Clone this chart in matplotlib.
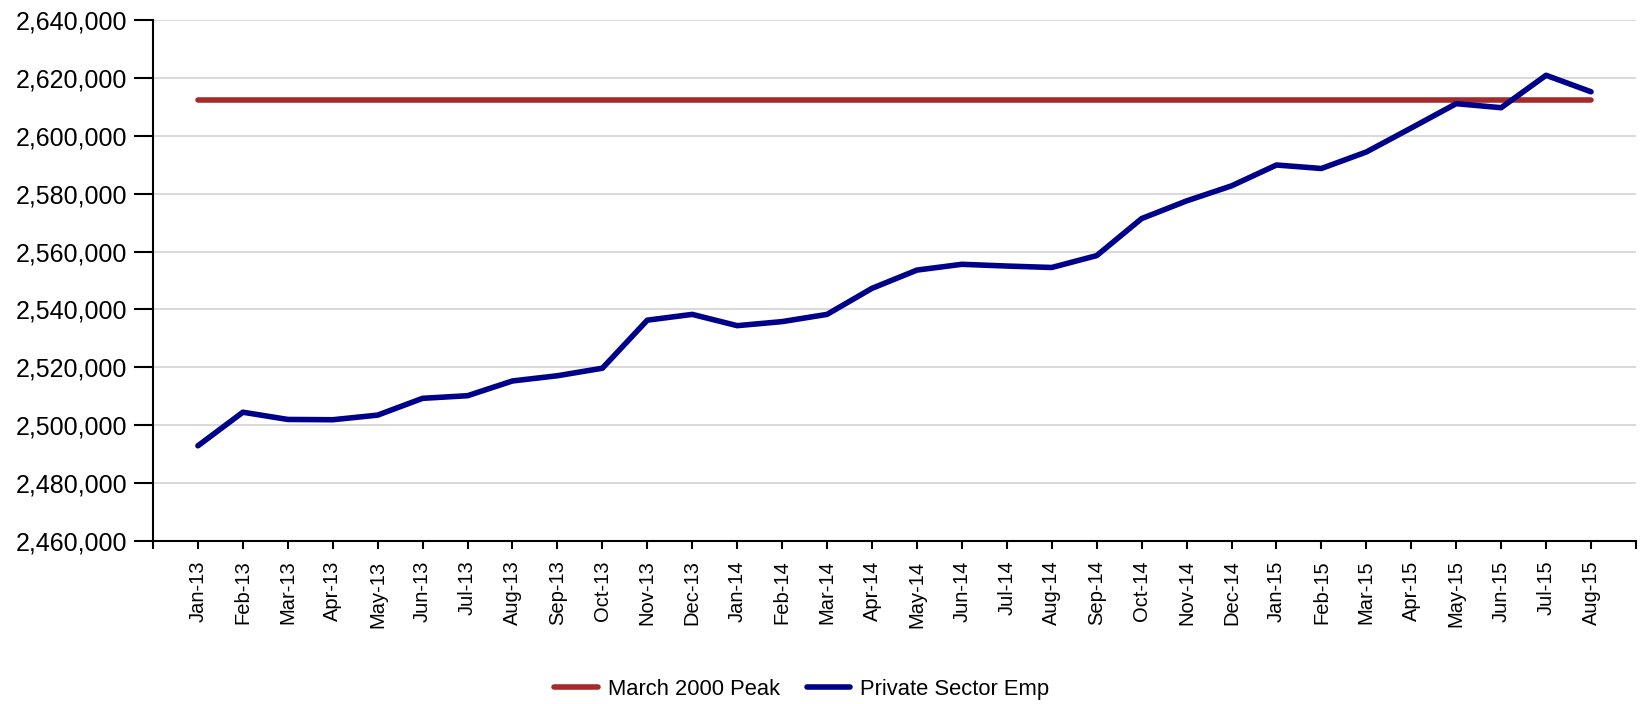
import matplotlib
matplotlib.use("Agg")
import matplotlib.pyplot as plt
from matplotlib.ticker import FuncFormatter, FixedLocator

plt.rcParams['font.family'] = ['Liberation Sans', 'DejaVu Sans']

months = ["Jan-13", "Feb-13", "Mar-13", "Apr-13", "May-13", "Jun-13", "Jul-13", "Aug-13",
          "Sep-13", "Oct-13", "Nov-13", "Dec-13", "Jan-14", "Feb-14", "Mar-14", "Apr-14",
          "May-14", "Jun-14", "Jul-14", "Aug-14", "Sep-14", "Oct-14", "Nov-14", "Dec-14",
          "Jan-15", "Feb-15", "Mar-15", "Apr-15", "May-15", "Jun-15", "Jul-15", "Aug-15"]

private_emp = [2492900, 2504500, 2502000, 2501900, 2503500, 2509300, 2510200, 2515300,
               2517100, 2519700, 2536300, 2538300, 2534400, 2535800, 2538300, 2547300,
               2553600, 2555600, 2555000, 2554500, 2558600, 2571400, 2577500, 2582700,
               2589900, 2588700, 2594400, 2602700, 2611100, 2609700, 2620900, 2615200]

peak_2000 = 2612300
peak_line = [peak_2000] * len(months)

y_ticks = list(range(2460000, 2640001, 20000))

red = "#A52A2A"
blue = "#00008B"

fig = plt.figure(figsize=(16.45, 7.04), dpi=100)
ax = fig.add_axes([0.0930, 0.2315, 0.9015, 0.7401])

x = list(range(len(months)))
ax.plot(x, peak_line, color=red, lw=4, solid_capstyle='round', label="March 2000 Peak", zorder=3)
ax.plot(x, private_emp, color=blue, lw=4, solid_capstyle='round', label="Private Sector Emp", zorder=4)

ax.set_xlim(-1, len(months))
ax.set_ylim(y_ticks[0], y_ticks[-1])

# ticks at every month plus the two axis ends
ax.xaxis.set_major_locator(FixedLocator(x))
ax.set_xticklabels(months, rotation=90, fontsize=14.5)
ax.xaxis.set_minor_locator(FixedLocator([-1, len(months)]))
ax.tick_params(axis='x', which='both', length=6, width=1.5, pad=8, color='black')

ax.set_yticks(y_ticks)
ax.yaxis.set_major_formatter(FuncFormatter(lambda v, p: f"{int(v):,}"))
ax.tick_params(axis='y', length=13.5, width=1.5, pad=5, labelsize=18, color='black')

ax.grid(axis='y', color='#D9D9D9', lw=1.4, zorder=0)
ax.set_axisbelow(True)
for s in ['top', 'right']:
    ax.spines[s].set_visible(False)
for s in ['left', 'bottom']:
    ax.spines[s].set_linewidth(1.5)
    ax.spines[s].set_color('black')

fig.legend(loc='center', bbox_to_anchor=(0.4875, 0.0213), ncol=2, frameon=False,
           fontsize=15.8, handlelength=2.0, handletextpad=0.45, columnspacing=1.2)

fig.savefig("out.png", dpi=100)
